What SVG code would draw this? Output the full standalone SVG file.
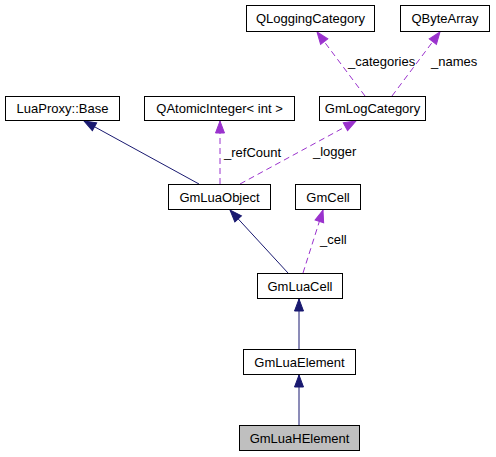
<svg xmlns="http://www.w3.org/2000/svg" width="496" height="457" viewBox="0 0 496 457">
<defs>
<style>
.node rect{fill:#ffffff;stroke:#000000;stroke-width:1}
.node.cur rect{fill:#bfbfbf}
text{font-family:"Liberation Sans",Arial,sans-serif;font-size:13px;fill:#000000}
.node text{text-anchor:middle}
.inh{stroke:#191970;stroke-width:1;fill:none}
.use{stroke:#9a32cd;stroke-width:1;fill:none;stroke-dasharray:6,4}
</style>
<marker id="ah-inh" markerUnits="userSpaceOnUse" markerWidth="16" markerHeight="14" refX="13" refY="6" orient="auto" viewBox="0 0 16 12">
<path d="M1,1.5 L13,6 L1,10.5 Z" fill="#191970" stroke="#191970" stroke-width="1"/>
</marker>
<marker id="ah-use" markerUnits="userSpaceOnUse" markerWidth="16" markerHeight="14" refX="13" refY="6" orient="auto" viewBox="0 0 16 12">
<path d="M1,1.5 L13,6 L1,10.5 Z" fill="#9a32cd" stroke="#9a32cd" stroke-width="1"/>
</marker>
</defs>
<rect width="496" height="457" fill="#ffffff"/>
<g id="connectors">
<line class="inh" x1="199" y1="184" x2="84" y2="121" marker-end="url(#ah-inh)"/>
<line class="use" x1="220" y1="184" x2="220" y2="121" marker-end="url(#ah-use)"/>
<line class="use" x1="240" y1="184" x2="356" y2="121" marker-end="url(#ah-use)"/>
<line class="use" x1="365" y1="96" x2="317" y2="32" marker-end="url(#ah-use)"/>
<line class="use" x1="392" y1="96" x2="440" y2="32" marker-end="url(#ah-use)"/>
<line class="inh" x1="288" y1="273" x2="230" y2="210" marker-end="url(#ah-inh)"/>
<line class="use" x1="303" y1="273" x2="323" y2="210" marker-end="url(#ah-use)"/>
<line class="inh" x1="299" y1="349" x2="299" y2="299" marker-end="url(#ah-inh)"/>
<line class="inh" x1="299" y1="425" x2="299" y2="375" marker-end="url(#ah-inh)"/>
<text x="348" y="66">_categories</text>
<text x="431" y="66">_names</text>
<text x="224" y="157">_refCount</text>
<text x="313" y="156">_logger</text>
<text x="320" y="244">_cell</text>
</g>
<g id="QLoggingCategory" class="node"><rect x="246.5" y="5.5" width="128" height="26"/><text x="310.5" y="23">QLoggingCategory</text></g>
<g id="QByteArray" class="node"><rect x="400.5" y="5.5" width="89" height="26"/><text x="445" y="23">QByteArray</text></g>
<g id="LuaProxyBase" class="node"><rect x="5.5" y="96.5" width="114" height="24"/><text x="62.5" y="113">LuaProxy::Base</text></g>
<g id="QAtomicInteger" class="node"><rect x="144.5" y="96.5" width="150" height="24"/><text x="219.5" y="113">QAtomicInteger&lt; int &gt;</text></g>
<g id="GmLogCategory" class="node"><rect x="319.5" y="96.5" width="106" height="24"/><text x="372.5" y="113">GmLogCategory</text></g>
<g id="GmLuaObject" class="node"><rect x="168.5" y="184.5" width="102" height="25"/><text x="219.5" y="201.5">GmLuaObject</text></g>
<g id="GmCell" class="node"><rect x="295.5" y="184.5" width="65" height="25"/><text x="328" y="201.5">GmCell</text></g>
<g id="GmLuaCell" class="node"><rect x="257.5" y="273.5" width="85" height="25"/><text x="300" y="290.5">GmLuaCell</text></g>
<g id="GmLuaElement" class="node"><rect x="243.5" y="349.5" width="112" height="25"/><text x="299.5" y="366.5">GmLuaElement</text></g>
<g id="GmLuaHElement" class="node cur"><rect x="239.5" y="425.5" width="120" height="25"/><text x="299.5" y="442.5">GmLuaHElement</text></g>
</svg>
